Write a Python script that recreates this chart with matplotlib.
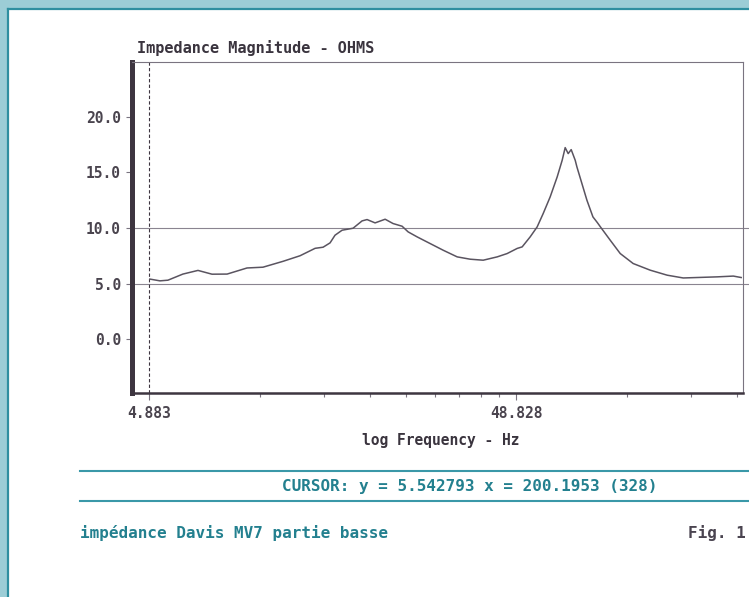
import matplotlib
matplotlib.use("Agg")
import matplotlib.pyplot as plt
from matplotlib.ticker import FixedLocator, NullFormatter, FixedFormatter
from matplotlib.patches import Rectangle
from matplotlib.lines import Line2D

# impedance curve, frequency in Hz / magnitude in ohms
freq = [4.91, 5.23, 5.50, 6.04, 6.64, 7.25, 7.97, 9.03, 9.98, 11.32, 12.59,
        13.84, 14.55, 15.20, 15.68, 16.39, 17.56, 18.58, 19.17, 20.16, 21.47,
        22.57, 23.88, 24.80, 26.24, 28.47, 30.89, 33.73, 36.59, 39.71, 43.36,
        46.15, 49.14, 50.70, 53.31, 55.70, 57.84, 60.43, 63.15, 65.16, 66.40,
        67.66, 68.95, 70.71, 71.47, 73.75, 76.10, 79.02, 81.18, 83.24, 88.07,
        93.77, 101.7, 113.2, 125.9, 139.2, 154.9, 172.3, 190.6, 200.2]
ohms = [5.40, 5.24, 5.30, 5.85, 6.18, 5.84, 5.85, 6.40, 6.47, 7.00, 7.50,
        8.17, 8.27, 8.66, 9.35, 9.80, 9.98, 10.64, 10.76, 10.46, 10.79,
        10.40, 10.16, 9.65, 9.20, 8.60, 8.00, 7.40, 7.19, 7.10, 7.40,
        7.70, 8.16, 8.30, 9.20, 10.10, 11.30, 12.80, 14.60, 16.10, 17.24,
        16.70, 17.06, 16.10, 15.50, 14.00, 12.50, 11.00, 10.50, 10.00, 8.90,
        7.70, 6.80, 6.20, 5.75, 5.50, 5.55, 5.60, 5.67, 5.54]

f0 = 4.8828125
y_ticks = [0.0, 5.0, 10.0, 15.0, 20.0]
x_major = [f0, 10 * f0]
x_labels = ["4.883", "48.828"]
x_minor = [k * f0 for k in range(2, 10)] + [k * 10 * f0 for k in range(2, 5)]
grid_levels = [5.0, 10.0]

title = "Impedance Magnitude - OHMS"
xlab = "log Frequency - Hz"
cursor_txt = "CURSOR: y = 5.542793 x = 200.1953 (328)"
caption = "impédance Davis MV7 partie basse"
fig_no = "Fig. 1"

dark = "#3d3540"
gray = "#7a7480"
teal = "#23808f"
mono = ["DejaVu Sans Mono"]

fig = plt.figure(figsize=(7.49, 5.97), dpi=100)
fig.patch.set_facecolor("white")

# light blue frame on the top and left
fig.add_artist(Rectangle((0, 0), 7 / 749, 1, transform=fig.transFigure,
                         color="#9ccdd6", lw=0, zorder=0))
fig.add_artist(Rectangle((0, 1 - 8 / 597), 1, 8 / 597, transform=fig.transFigure,
                         color="#9ccdd6", lw=0, zorder=0))
fig.add_artist(Line2D([8 / 749, 8 / 749], [0, 1 - 9 / 597], transform=fig.transFigure,
                      color="#2f8fa0", lw=1.6))
fig.add_artist(Line2D([8 / 749, 1], [1 - 9 / 597, 1 - 9 / 597], transform=fig.transFigure,
                      color="#2f8fa0", lw=1.6))

ax = fig.add_axes([132 / 749, 1 - 393 / 597, 611 / 749, 331 / 597])
ax.set_xscale("log")
ax.set_xlim(4.39, 202.5)
ax.set_ylim(-4.86, 24.95)

for lvl in grid_levels:
    ax.axhline(lvl, xmin=0, xmax=1.012, color="#8a8490", lw=0.8, clip_on=False, zorder=1)
ax.axvline(f0, color=dark, lw=0.8, ls=(0, (3, 2)), zorder=2)
ax.plot(freq, ohms, color="#5a5460", lw=1.1, zorder=3)

ax.spines["left"].set_linewidth(3.6)
ax.spines["left"].set_color(dark)
ax.spines["bottom"].set_linewidth(1.8)
ax.spines["bottom"].set_color(dark)
for s in ("top", "right"):
    ax.spines[s].set_linewidth(0.8)
    ax.spines[s].set_color(gray)

ax.set_yticks(y_ticks)
ax.set_yticklabels(["%.1f" % v for v in y_ticks])
ax.xaxis.set_major_locator(FixedLocator(x_major))
ax.xaxis.set_major_formatter(FixedFormatter(x_labels))
ax.xaxis.set_minor_locator(FixedLocator(x_minor))
ax.xaxis.set_minor_formatter(NullFormatter())
ax.tick_params(axis="y", length=4, width=0.8, color=gray, pad=4,
               labelsize=10.5, labelcolor="#4a444e")
ax.tick_params(axis="x", which="major", length=5, width=0.8, color=gray, pad=4,
               labelsize=10.5, labelcolor="#4a444e")
ax.tick_params(axis="x", which="minor", length=3, width=0.8, color=gray)
for lb in ax.get_xticklabels() + ax.get_yticklabels():
    lb.set_family(mono)
    lb.set_fontweight("bold")

fig.text(137 / 749, 1 - 48 / 597, title, ha="left", va="center", family=mono,
         fontsize=11, fontweight="bold", color="#3a343e")
fig.text(441 / 749, 1 - 440 / 597, xlab, ha="center", va="center", family=mono,
         fontsize=10.5, fontweight="bold", color="#3a343e")

# cursor readout between two teal rules
fig.add_artist(Line2D([80 / 749, 1], [1 - 471 / 597] * 2, transform=fig.transFigure,
                      color="#3a98a8", lw=1.5))
fig.add_artist(Line2D([80 / 749, 1], [1 - 501 / 597] * 2, transform=fig.transFigure,
                      color="#3a98a8", lw=1.5))
fig.text(470 / 749, 1 - 487 / 597, cursor_txt, ha="center", va="center", family=mono,
         fontsize=11.5, fontweight="bold", color=teal)

fig.text(80 / 749, 1 - 533 / 597, caption, ha="left", va="center", family=mono,
         fontsize=11.5, fontweight="bold", color=teal)
fig.text(746 / 749, 1 - 533 / 597, fig_no, ha="right", va="center", family=mono,
         fontsize=11.5, fontweight="bold", color="#4a4450")

fig.savefig("out.png", dpi=100)
